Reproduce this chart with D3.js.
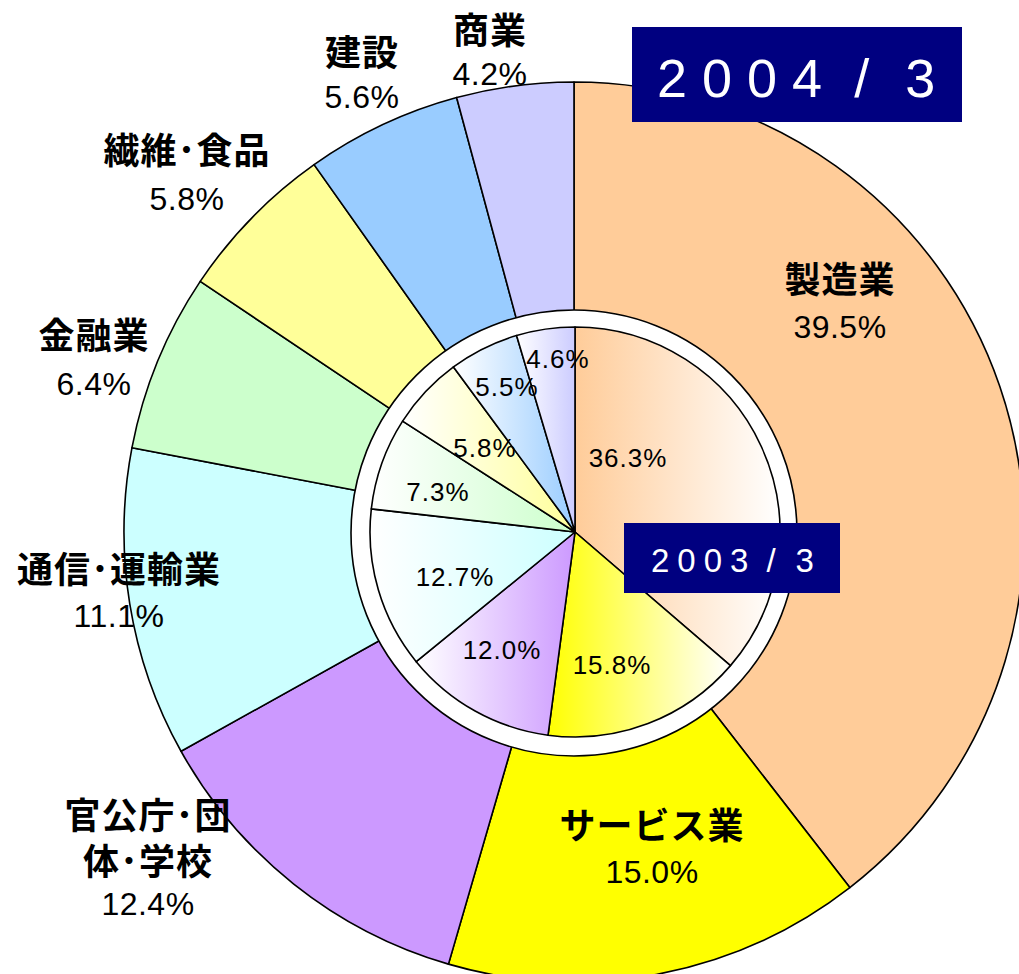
<!DOCTYPE html>
<html><head><meta charset="utf-8">
<script src="https://cdn.jsdelivr.net/npm/d3@7"></script>
<style>html,body{margin:0;padding:0;background:#fff;} svg{display:block}</style>
</head><body><svg id="c" width="1019" height="974"></svg>
<script>
// ---- data ----
const categories = ["製造業","サービス業","官公庁･団体･学校","通信･運輸業","金融業","繊維･食品","建設","商業"];
const labelLines = [["製造業"],["サービス業"],["官公庁･団","体･学校"],["通信･運輸業"],["金融業"],["繊維･食品"],["建設"],["商業"]];
const values2004 = [39.5,15.0,12.4,11.1,6.4,5.8,5.6,4.2];
const values2003 = [36.3,15.8,12.0,12.7,7.3,5.8,5.5,4.6];
const colors = ["#FFCC99","#FFFF00","#CC99FF","#CCFFFF","#CCFFCC","#FFFF99","#99CCFF","#CCCCFF"];
const yearLabels = ["2004","3","2003","3"];

// ---- layout ----
const cx = 574, cy = 532;
const R_OUT = 450, R_RING = 223, R_IN = 205;
const outerLayout = [
  {x:840, names:[293], pct:338},
  {x:652, names:[839], pct:883},
  {x:148, names:[829,875], pct:915},
  {x:119, names:[583], pct:627},
  {x:94,  names:[349], pct:395},
  {x:187, names:[164], pct:210},
  {x:362, names:[66],  pct:108},
  {x:490, names:[44],  pct:85}
];
const innerLayout = [[628,458],[612,665],[502,650],[455,577],[438,492],[485,448],[507,387],[558,359]];

const svg = d3.select("#c");
const defs = svg.append("defs");
const pie = d3.pie().sort(null).value(d => d);

const fmt = v => v.toFixed(1) + "%";
const CJK = "'Noto Sans CJK JP','Noto Sans CJK SC',sans-serif";
const LAT = "'Liberation Sans',Arial,Helvetica,sans-serif";

// outer pie
const gOut = svg.append("g").attr("transform", `translate(${cx},${cy})`);
const arcOut = d3.arc().innerRadius(0).outerRadius(R_OUT);
gOut.selectAll("path").data(pie(values2004)).join("path")
  .attr("d", arcOut)
  .attr("fill", (d,i) => colors[i])
  .attr("stroke", "#000").attr("stroke-width", 1.6).attr("stroke-linejoin","round");

// ring
svg.append("circle").attr("cx", cx).attr("cy", cy+1).attr("r", R_RING)
  .attr("fill", "#fff").attr("stroke", "#000").attr("stroke-width", 1.6);

// inner pie with gradients
const arcIn = d3.arc().innerRadius(0).outerRadius(R_IN);
const innerArcs = pie(values2003);
innerArcs.forEach((d,i) => {
  const right = arcIn.centroid(d)[0] > 0;
  const g = defs.append("linearGradient").attr("id", "grad"+i)
    .attr("x1","0").attr("y1","0").attr("x2","1").attr("y2","0");
  g.append("stop").attr("offset","0").attr("stop-color", right ? colors[i] : "#fff");
  g.append("stop").attr("offset","1").attr("stop-color", right ? "#fff" : colors[i]);
});
const gIn = svg.append("g").attr("transform", `translate(${cx+1},${cy})`);
gIn.selectAll("path").data(innerArcs).join("path")
  .attr("d", arcIn)
  .attr("fill", (d,i) => `url(#grad${i})`)
  .attr("stroke", "#000").attr("stroke-width", 1.6).attr("stroke-linejoin","round");

// inner labels
svg.append("g").selectAll("text").data(values2003).join("text")
  .attr("x", (d,i) => innerLayout[i][0])
  .attr("y", (d,i) => innerLayout[i][1] + 9)
  .attr("text-anchor","middle")
  .attr("font-family", LAT).attr("font-size", 26).attr("letter-spacing", 1)
  .attr("fill","#000")
  .text(d => fmt(d));

// outer labels (multi-line names as one text element with tspans)
const gl = svg.append("g");
values2004.forEach((v,i) => {
  const L = outerLayout[i];
  const t = gl.append("text").attr("text-anchor","middle").attr("font-family", CJK)
    .attr("font-weight", 700).attr("font-size", 36).attr("letter-spacing", 1).attr("fill","#000");
  labelLines[i].forEach((ln,j) => {
    t.append("tspan").attr("x", L.x).attr("y", L.names[j]).text(ln);
  });
  gl.append("text").attr("x", L.x).attr("y", L.pct)
    .attr("text-anchor","middle").attr("font-family", LAT)
    .attr("font-size", 32).attr("letter-spacing", 0.5).attr("fill","#000").text(fmt(v));
});

// year boxes
function yearBox(x, y, w, h, fs, ls, baseline, tx, parts, dxs) {
  svg.append("rect").attr("x", x).attr("y", y).attr("width", w).attr("height", h).attr("fill", "#000080");
  const t = svg.append("text").attr("x", tx).attr("y", baseline)
    .attr("font-family", LAT).attr("font-size", fs).attr("letter-spacing", ls).attr("fill", "#fff");
  t.append("tspan").text(parts[0]);
  t.append("tspan").attr("dx", dxs[0]).text("/");
  t.append("tspan").attr("dx", dxs[1]).text(parts[1]);
}
yearBox(632, 27, 330, 95, 54, 15, 97, 657, [yearLabels[0], yearLabels[1]], [17, 21]);
yearBox(624, 523, 216, 70, 33, 8, 572, 651, [yearLabels[2], yearLabels[3]], [10, 12]);
</script></body></html>
